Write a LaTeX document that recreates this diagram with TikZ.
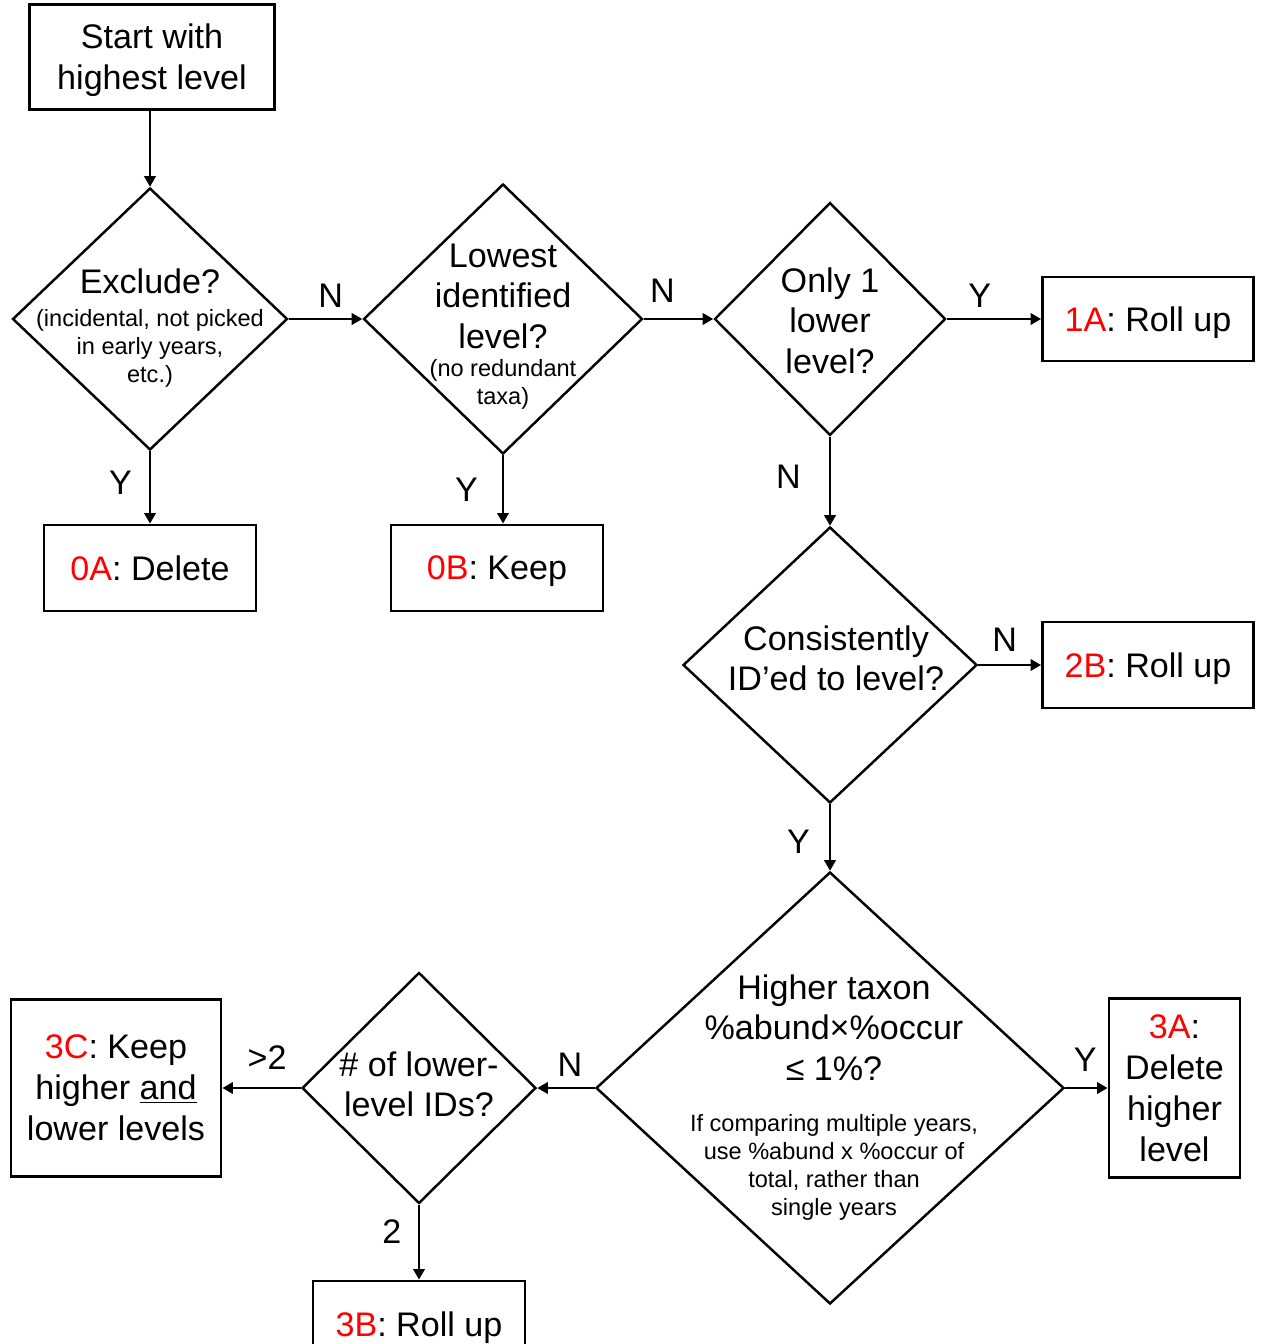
\documentclass[tikz,border=0pt]{standalone}
\usepackage{fontspec}
\setmainfont{Liberation Sans}
\usetikzlibrary{shapes.geometric,arrows.meta,positioning}
\newcommand{\bigf}{\fontsize{19.4}{23.3}\selectfont}
\newcommand{\smallf}{\fontsize{13.4}{15.9}\selectfont}
\newcommand{\dtext}[3][0pt]{\makebox[0pt]{\hspace{#1}\raisebox{#2}[0pt][0pt]{\vtop{\hsize=10cm\parindent=0pt\parskip=0pt\centering #3\par}}}}
\newcommand{\code}[1]{\textcolor{red}{#1}}

\begin{document}
\begin{tikzpicture}[node distance={2cm}, >={Triangle[length=6pt,width=6.5pt]}, line width=1.3pt,
        box/.style = {draw, line width=1.6pt, inner sep=0pt, align=center, text depth=0pt, font=\bigf},
        dec/.style = {draw, diamond, line width=1.4pt, inner sep=0pt, font=\bigf},
        lbl/.style = {font=\bigf, inner sep=0pt}]
        \useasboundingbox (0,0) rectangle (25.2,-26.88);
        \node[box, minimum width=4.9cm, minimum height=2.1cm] (1) at (3.04,-1.14) {Start with\\highest level};
        \node[dec, minimum width=5.5cm, minimum height=5.24cm] (2) at (3.0,-6.38) {\dtext{0.52cm}{Exclude?\par\vspace{3.4pt}\smallf (incidental, not picked\\in early years,\\etc.)}};
        \node[dec, minimum width=5.58cm, minimum height=5.4cm] (3) [right of=2, node distance=7.06cm] {\dtext{1.04cm}{Lowest\\identified\\level?\par\smallf (no redundant\\taxa)}};
        \node[dec, minimum width=4.62cm, minimum height=4.66cm] (4) [right of=3, node distance=6.54cm] {\dtext{0.54cm}{Only 1\\lower\\level?}};
        \node[box, minimum width=4.22cm, minimum height=1.68cm] (5) [right of=4, node distance=6.36cm] {\code{1A}: Roll up};
        \node[box, minimum width=4.24cm, minimum height=1.72cm] (6) [below of=2, node distance=4.98cm] {\code{0A}: Delete};
        \node[box, minimum width=4.24cm, minimum height=1.72cm] (7) [below of=3, node distance=4.98cm, xshift=-0.12cm] {\code{0B}: Keep};
        \node[dec, minimum width=5.88cm, minimum height=5.52cm] (8) [below of=4, node distance=6.92cm] {\dtext[0.24cm]{0.3cm}{Consistently\\ID’ed to level?}};
        \node[box, minimum width=4.22cm, minimum height=1.72cm] (9) [right of=8, node distance=6.36cm] {\code{2B}: Roll up};
        \node[dec, minimum width=9.36cm, minimum height=8.64cm] (10) [below of=8, node distance=8.46cm] {\dtext[0.16cm]{1.78cm}{Higher taxon\\\%abund×\%occur\\≤ 1\%?\par\vspace{13pt}\smallf If comparing multiple years,\\use \%abund x \%occur of\\total, rather than\\single years}};
        \node[box, minimum width=2.62cm, minimum height=3.58cm] (11) [right of=10, node distance=6.89cm] {\code{3A}:\\Delete\\higher\\level};
        \node[dec, minimum width=4.68cm, minimum height=4.62cm] (12) [left of=10, node distance=8.22cm] {\dtext{0.24cm}{\# of lower-\\level IDs?}};
        \node[box, minimum width=4.2cm, minimum height=3.54cm] (13) [left of=12, node distance=6.06cm] {\code{3C}: Keep\\higher \underline{and}\\lower levels};
        \node[box, minimum width=4.24cm, minimum height=1.72cm] (14) [below of=12, node distance=4.72cm] {\code{3B}: Roll up};
        \draw[->] (1.south -| 2.north) -- (2);
        \draw[->] (2) -- node[lbl, above=0.2cm, pos=0.57] (n1) {N} (3);
        \draw[->] (3) -- node[lbl, above=0.3cm, pos=0.27] (n2) {N} (4);
        \draw[->] (4) -- node[lbl, above=0.2cm, pos=0.35] (y1) {Y} (5);
        \draw[->] (2) -- node[lbl, left=0.34cm, pos=0.44] (y2) {Y} (6);
        \draw[->] (3.south) -- node[lbl, left=0.48cm, pos=0.5] (y3) {Y} (3.south |- 7.north);
        \draw[->] (4) -- node[lbl, left=0.56cm, pos=0.45] (n3) {N} (8);
        \draw[->] (8) -- node[lbl, above=0.24cm, pos=0.42] (n4) {N} (9);
        \draw[->] (8) -- node[lbl, left=0.38cm, pos=0.56] (y4) {Y} (10);
        \draw[->] (10) -- node[lbl, above=0.3cm, pos=0.47] (y5) {Y} (11);
        \draw[->] (10) -- node[lbl, above=0.2cm, pos=0.43] (n5) {N} (12);
        \draw[->] (12) -- node[lbl, above=0.34cm, pos=0.43] (g1) {>2} (13);
        \draw[->] (12) -- node[lbl, left=0.33cm, pos=0.36] (g2) {2} (14);
    \end{tikzpicture}
\end{document}
